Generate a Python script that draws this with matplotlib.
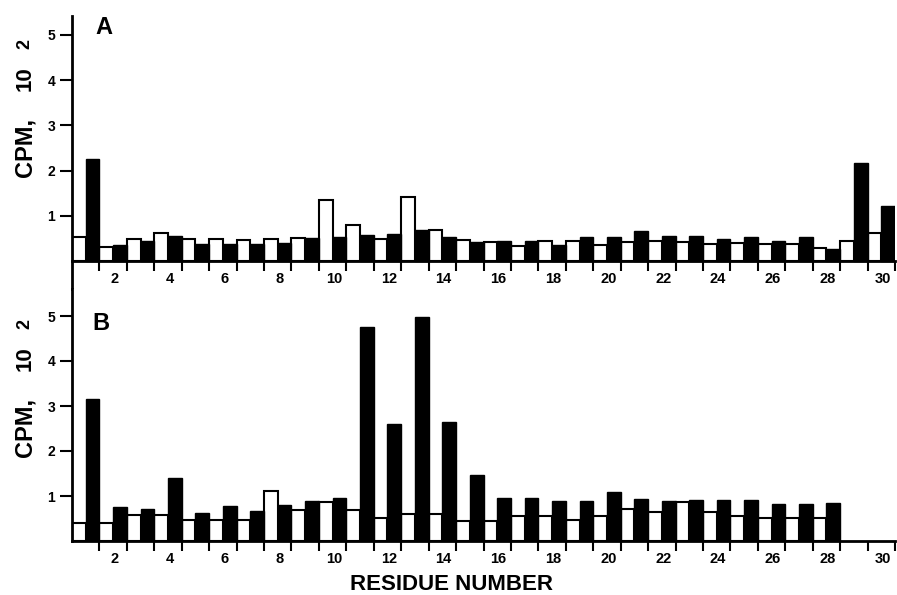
import numpy as np
import matplotlib
matplotlib.use("Agg")
import matplotlib.pyplot as plt

residues = list(range(1, 31))

# Panel A values (CPM x 10^2)
a_open = [0.52, 0.32, 0.49, 0.62, 0.49, 0.49, 0.47, 0.49, 0.50, 1.36,
          0.80, 0.49, 1.42, 0.69, 0.47, 0.41, 0.34, 0.44, 0.45, 0.35,
          0.43, 0.44, 0.41, 0.37, 0.40, 0.38, 0.38, 0.29, 0.44, 0.63]
a_filled = [2.26, 0.36, 0.44, 0.56, 0.38, 0.38, 0.38, 0.40, 0.50, 0.53,
            0.58, 0.60, 0.69, 0.52, 0.43, 0.44, 0.44, 0.36, 0.54, 0.54,
            0.66, 0.56, 0.55, 0.49, 0.52, 0.45, 0.52, 0.26, 2.16, 1.21]

# Panel B values (CPM x 10^2); residues 29-30 not measured
b_open = [0.41, 0.41, 0.57, 0.57, 0.47, 0.47, 0.47, 1.12, 0.70, 0.86,
          0.69, 0.51, 0.61, 0.60, 0.45, 0.45, 0.55, 0.55, 0.47, 0.55,
          0.71, 0.64, 0.86, 0.65, 0.55, 0.51, 0.51, 0.51, np.nan, np.nan]
b_filled = [3.16, 0.76, 0.71, 1.39, 0.63, 0.77, 0.67, 0.80, 0.88, 0.95,
            4.76, 2.59, 4.97, 2.64, 1.47, 0.96, 0.96, 0.89, 0.90, 1.10,
            0.93, 0.90, 0.92, 0.91, 0.92, 0.82, 0.82, 0.84, np.nan, np.nan]

xtick_labels = [str(i) for i in range(2, 31, 2)]
ytick_values = [1, 2, 3, 4, 5]

FONT = "Liberation Sans"
plt.rcParams['font.family'] = [FONT, 'DejaVu Sans']
plt.rcParams['font.weight'] = 'bold'

W, H = 897, 595
fig = plt.figure(figsize=(W / 100, H / 100), dpi=100)


def px_axes(x0, y_top, x1, y_bot):
    return fig.add_axes([x0 / W, 1 - y_bot / H, (x1 - x0) / W, (y_bot - y_top) / H])


def draw_panel(ax, open_vals, filled_vals, ylim):
    res = np.array(residues, dtype=float)
    ov = np.array(open_vals, dtype=float)
    fv = np.array(filled_vals, dtype=float)
    m = ~np.isnan(ov)
    ax.bar(res[m] - 1, ov[m], width=0.5, align='edge', color='white',
           edgecolor='black', linewidth=1.5, zorder=2)
    m = ~np.isnan(fv)
    ax.bar(res[m] - 0.5, fv[m], width=0.5, align='edge', color='black',
           edgecolor='black', linewidth=1.0, zorder=3)
    ax.set_xlim(0, 30)
    ax.set_ylim(*ylim)
    for s in ['top', 'right']:
        ax.spines[s].set_visible(False)
    ax.spines['bottom'].set_position(('data', 0))
    ax.spines['left'].set_linewidth(2.0)
    ax.spines['bottom'].set_linewidth(2.0)
    ax.spines['bottom'].set_zorder(4)
    # boundary ticks (no labels)
    ax.set_xticks(range(1, 31))
    ax.set_xticklabels([])
    ax.tick_params(axis='x', which='major', direction='out', length=7, width=1.5)
    # labels at centres of even residues
    ax.set_xticks([i - 0.45 for i in range(2, 31, 2)], minor=True)
    ax.set_xticklabels(xtick_labels, minor=True, fontsize=10.5, fontweight='bold')
    ax.tick_params(axis='x', which='minor', length=0, pad=8)
    ax.set_yticks(ytick_values)
    ax.set_yticklabels([str(v) for v in ytick_values], fontsize=10, fontweight='bold')
    ax.tick_params(axis='y', direction='out', length=9, width=1.5, pad=3)


axA = px_axes(72, 16, 895, 289)
draw_panel(axA, a_open, a_filled, (-0.62, 5.42))
axB = px_axes(72, 289, 895, 541)
draw_panel(axB, b_open, b_filled, (0, 5.6))

fig.text(95 / W, 1 - 27 / H, "A", fontsize=17,
         fontweight='bold', ha='left', va='center')
fig.text(92 / W, 1 - 324 / H, "B", fontsize=17,
         fontweight='bold', ha='left', va='center')

# y labels: "CPM,   10  2"
for (cpm_y, ten_y, two_y) in [(147, 79, 44), (427, 359, 324)]:
    fig.text(25 / W, 1 - cpm_y / H, "CPM,", rotation=90, fontsize=17,
             fontweight='bold', ha='center', va='center')
    fig.text(25 / W, 1 - ten_y / H, "10", rotation=90, fontsize=16,
             fontweight='bold', ha='center', va='center')
    fig.text(25 / W, 1 - two_y / H, "2", rotation=90, fontsize=13,
             fontweight='bold', ha='center', va='center')

fig.text(451 / W, 1 - 585 / H, "RESIDUE NUMBER", fontsize=16, fontweight='bold',
         ha='center', va='center')

fig.savefig("out.png", dpi=100)
